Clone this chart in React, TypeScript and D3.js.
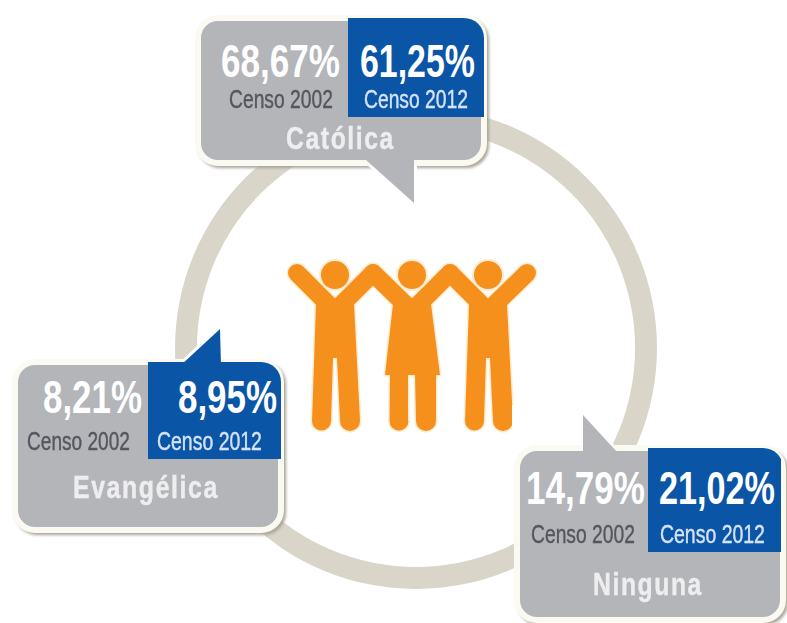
import { useEffect, useRef } from 'react';
import * as d3 from 'd3';

const categories = ['Católica', 'Evangélica', 'Ninguna'];
const censo2002 = [68.67, 8.21, 14.79];
const censo2012 = [61.25, 8.95, 21.02];
const censusLabels = ['Censo 2002', 'Censo 2012'];

const GRAY = '#b3b5b9';
const BLUE = '#0b55a6';
const ORANGE = '#f6901e';
const HALO = '#fdeccf';
const NARROW = '"Liberation Sans", Arial, sans-serif';

const pct = d3.formatLocale({ decimal: ',', thousands: '.', grouping: [3], currency: ['', ''] }).format('.2f');

// where each callout sits, same order as categories
const layouts = [
  {
    box: [198, 18, 484, 163], blue: [348, 18, 484, 117], tail: [[366, 160], [414, 203], [414, 160]], tailFill: GRAY,
    v: [[221, 340, 77], [360, 475, 77]], c: [[229, 333, 108], [364, 468, 108]], t: [286, 395, 149],
  },
  {
    box: [15, 362, 281, 530], blue: [148, 362, 281, 459], tail: [[180, 366], [220, 329], [221, 366]], tailFill: BLUE,
    v: [[43, 142, 413], [178, 277, 413]], c: [[27, 130, 450], [157, 262, 450]], t: [73, 219, 498],
  },
  {
    box: [517, 448, 783, 620], blue: [648, 448, 781, 552], tail: [[583, 415], [583, 452], [617, 452]], tailFill: GRAY,
    v: [[526, 645, 504], [659, 775, 504]], c: [[531, 635, 543], [660, 765, 543]], t: [593, 703, 595],
  },
];

// the three figures: x of the body centre and whether it wears a dress
const figures = [
  { cx: 335, dress: false },
  { cx: 412, dress: true },
  { cx: 488, dress: false },
];
const handXs = [297, 373, 450, 527];

const ring = d3.arc()({ innerRadius: 219, outerRadius: 241, startAngle: 0, endAngle: Math.PI * 2 }) as string;

function roundBox([x0, y0, x1, y1]: number[], r: number) {
  const p = d3.path();
  p.moveTo(x0 + r, y0);
  p.arcTo(x1, y0, x1, y1, r);
  p.arcTo(x1, y1, x0, y1, r);
  p.arcTo(x0, y1, x0, y0, r);
  p.arcTo(x0, y0, x1, y0, r);
  p.closePath();
  return p.toString();
}

const tailPath = d3.line();

function figureBody(cx: number, dress: boolean) {
  const p = d3.path();
  if (dress) {
    p.moveTo(cx - 19, 304);
    p.lineTo(cx + 19, 304);
    p.lineTo(cx + 28, 375);
    p.lineTo(cx + 24, 375);
    p.lineTo(cx + 24, 421);
    p.arc(cx + 14, 421, 10, 0, Math.PI);
    p.lineTo(cx + 3, 375);
    p.lineTo(cx - 4, 375);
    p.lineTo(cx - 4, 421);
    p.arc(cx - 13, 421, 9.5, 0, Math.PI);
    p.lineTo(cx - 22, 375);
    p.lineTo(cx - 27, 375);
  } else {
    p.moveTo(cx - 19, 304);
    p.lineTo(cx + 19, 304);
    p.lineTo(cx + 25, 421);
    p.arc(cx + 15, 421, 10, 0, Math.PI);
    p.lineTo(cx + 2, 358);
    p.lineTo(cx - 2, 358);
    p.lineTo(cx - 4, 421);
    p.arc(cx - 13.5, 421, 9.5, 0, Math.PI);
  }
  p.closePath();
  return p.toString();
}

const armLine = (cx: number, i: number) =>
  d3.line()([[handXs[i], 273], [cx, 311], [handXs[i + 1], 273]]) as string;

// text gets squeezed to the span it has in the original, see the effect in App
function Fitted({ span, y, size, weight, fill, filter, spacing, stroke, text }: any) {
  return (
    <text className="fit" data-x={span[0]} data-y={y} data-w={span[1] - span[0]}
      fontFamily={NARROW} fontSize={size} fontWeight={weight} fill={fill} filter={filter}
      stroke={stroke} strokeWidth={stroke ? 0.4 : undefined}
      letterSpacing={spacing} transform={`translate(${span[0]},${y})`}>
      {text}
    </text>
  );
}

export default function App() {
  const svgRef = useRef<SVGSVGElement>(null);

  useEffect(() => {
    d3.select(svgRef.current).selectAll<SVGTextElement, unknown>('text.fit').each(function () {
      const { x, y, w } = this.dataset as any;
      const sx = +w / this.getComputedTextLength();
      this.setAttribute('transform', `translate(${x},${y}) scale(${sx},1)`);
    });
  }, []);

  return (
    <svg ref={svgRef} width={787} height={623} style={{ position: 'absolute', left: 0, top: 0, background: '#fff' }}>
      <defs>
        <filter id="soft" x="-5%" y="-20%" width="110%" height="140%"><feGaussianBlur stdDeviation="0.6" /></filter>
        <filter id="shadow" x="-5%" y="-5%" width="110%" height="110%"><feGaussianBlur stdDeviation="1.5" /></filter>
        {layouts.map((l, i) => (
          <clipPath id={`box${i}`} key={i}><path d={roundBox(l.box, 20)} /></clipPath>
        ))}
      </defs>

      <path d={ring} transform="translate(416,348)" fill="#d9d5c9" filter="url(#soft)" />

      {/* halo first, then the people on top */}
      <g filter="url(#soft)">
        {figures.map((f, i) => (
          <g key={i} fill="none" stroke={HALO}>
            <path d={armLine(f.cx, i)} strokeWidth={21} strokeLinecap="round" strokeLinejoin="round" />
            <path d={figureBody(f.cx, f.dress)} strokeWidth={3} />
          </g>
        ))}
        {figures.map((f, i) => (
          <g key={i}>
            <path d={armLine(f.cx, i)} fill="none" stroke={ORANGE} strokeWidth={18} strokeLinecap="round" strokeLinejoin="round" />
            <path d={figureBody(f.cx, f.dress)} fill={ORANGE} />
            <circle cx={f.cx} cy={275} r={15} fill={ORANGE} stroke={HALO} strokeWidth={2} />
          </g>
        ))}
      </g>
      {/* white patch that cuts the last leg in the original */}
      <rect x={512} y={405} width={40} height={40} fill="#fff" />

      {categories.map((name, i) => {
        const l = layouts[i];
        const tail = tailPath(l.tail as [number, number][]) + 'Z';
        const box = roundBox(l.box, 20);
        return (
          <g key={name}>
            <path d={box} transform="translate(2.5,2.5)" fill="none" stroke="#a9a595" strokeWidth={5} filter="url(#shadow)" />
            <path d={tail} fill={l.tailFill} stroke="#fff" strokeWidth={6} strokeLinejoin="round" />
            <path d={box} fill={GRAY} stroke="#fbfaf2" strokeWidth={6} />
            <path d={tail} fill={l.tailFill} />
            <rect x={l.blue[0]} y={l.blue[1]} width={l.blue[2] - l.blue[0]} height={l.blue[3] - l.blue[1]}
              fill={BLUE} clipPath={`url(#box${i})`} />
            <Fitted span={l.v[0]} y={l.v[0][2]} size={46} weight="bold" fill="#fff" text={`${pct(censo2002[i])}%`} />
            <Fitted span={l.v[1]} y={l.v[1][2]} size={46} weight="bold" fill="#fff" text={`${pct(censo2012[i])}%`} />
            <Fitted span={l.c[0]} y={l.c[0][2]} size={25} fill="#54575e" stroke="#54575e" filter="url(#soft)" text={censusLabels[0]} />
            <Fitted span={l.c[1]} y={l.c[1][2]} size={25} fill="#d4e2f6" stroke="#d4e2f6" filter="url(#soft)" text={censusLabels[1]} />
            <Fitted span={l.t} y={l.t[2]} size={31} weight="bold" fill="#eeeef0" stroke="#eeeef0" filter="url(#soft)" spacing={2} text={name} />
          </g>
        );
      })}
    </svg>
  );
}
